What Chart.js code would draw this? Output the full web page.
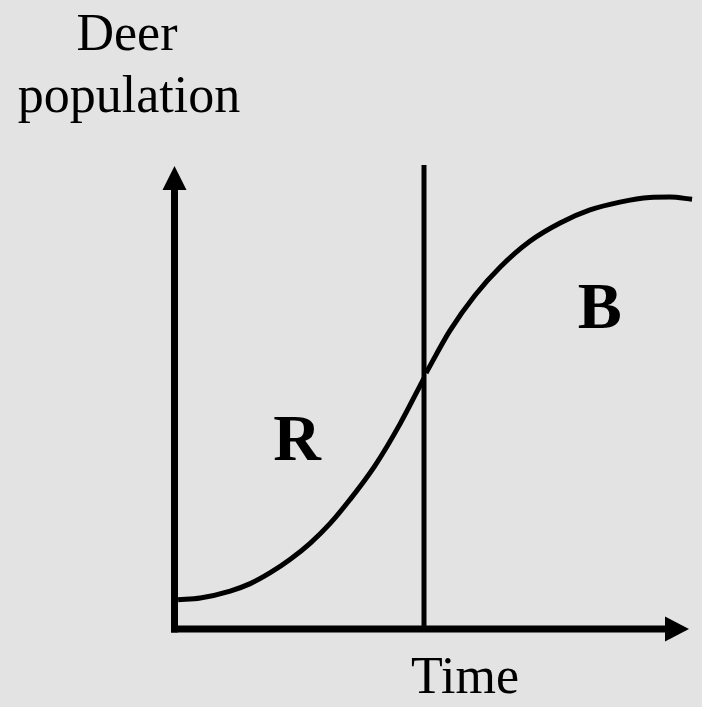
<!DOCTYPE html>
<html>
<head>
<meta charset="utf-8">
<title>Deer population over time</title>
<script src="https://cdn.jsdelivr.net/npm/chart.js@4/dist/chart.umd.min.js"></script>
<style>
  html, body { margin: 0; padding: 0; background: #e3e3e3; }
  #wrap { width: 702px; height: 707px; }
</style>
</head>
<body>
<div id="wrap"><canvas id="c" width="702" height="707"></canvas></div>
<script>
// Growth curve, lower half (reinforcing phase R): time vs deer population
const growthTime = [0.07, 0.50, 1.08, 1.47, 1.85, 2.24, 2.63, 3.02, 3.40, 3.89, 4.37, 4.84];
const growthPop  = [0.63, 0.67, 0.82, 0.98, 1.21, 1.50, 1.85, 2.28, 2.79, 3.53, 4.42, 5.42];
// Growth curve, upper half (balancing phase B)
const limitTime = [4.88, 5.34, 5.83, 6.32, 6.90, 7.48, 8.06, 8.64, 9.22, 9.61, 10.04];
const limitPop  = [5.53, 6.44, 7.21, 7.82, 8.38, 8.77, 9.05, 9.22, 9.32, 9.33, 9.28];
// Boundary between the two phases
const switchTime = [4.84, 4.84];
const switchPop  = [0, 10.02];
// Axis titles and phase labels
const axisLabels = { y: ["Deer", "population"], x: "Time" };
const phaseNames = ["R", "B"];
const phaseTime  = [2.38, 8.25];
const phasePop   = [3.65, 6.5];

const toPoints = (xs, ys) => xs.map((x, i) => ({ x: x, y: ys[i] }));

const INK = '#000000';
const PAPER = '#e3e3e3';

const arrowAxes = {
  id: 'arrowAxes',
  beforeDraw(chart) {
    const ctx = chart.ctx;
    ctx.save();
    ctx.fillStyle = PAPER;
    ctx.fillRect(0, 0, chart.width, chart.height);
    ctx.restore();
  },
  afterDatasetsDraw(chart) {
    const { ctx, scales: { x, y } } = chart;
    const x0 = x.getPixelForValue(0), y0 = y.getPixelForValue(0);
    const yTop = y.getPixelForValue(10), xEnd = x.getPixelForValue(10);
    ctx.save();
    ctx.strokeStyle = INK;
    ctx.fillStyle = INK;
    ctx.lineWidth = 7;
    ctx.lineCap = 'butt';
    // vertical axis with arrowhead
    ctx.beginPath();
    ctx.moveTo(x0, y0 + 3.5);
    ctx.lineTo(x0, yTop + 20);
    ctx.stroke();
    ctx.beginPath();
    ctx.moveTo(x0, yTop);
    ctx.lineTo(x0 - 12, yTop + 24);
    ctx.lineTo(x0 + 12, yTop + 24);
    ctx.closePath();
    ctx.fill();
    // horizontal axis with arrowhead
    ctx.beginPath();
    ctx.moveTo(x0 - 3.5, y0);
    ctx.lineTo(xEnd - 22, y0);
    ctx.stroke();
    ctx.beginPath();
    ctx.moveTo(xEnd - 1, y0);
    ctx.lineTo(xEnd - 25, y0 - 12.5);
    ctx.lineTo(xEnd - 25, y0 + 12.5);
    ctx.closePath();
    ctx.fill();

    // axis titles
    ctx.textAlign = 'center';
    ctx.textBaseline = 'alphabetic';
    ctx.font = '52px "Liberation Serif", "Times New Roman", serif';
    ctx.fillText(axisLabels.y[0], 127, 50);
    ctx.fillText(axisLabels.y[1], 129, 112);
    ctx.fillText(axisLabels.x, 465, 693);

    // phase labels
    ctx.font = 'bold 66px "Liberation Serif", "Times New Roman", serif';
    phaseNames.forEach((name, i) => {
      ctx.fillText(name, x.getPixelForValue(phaseTime[i]), y.getPixelForValue(phasePop[i]));
    });
    ctx.restore();
  }
};

new Chart(document.getElementById('c'), {
  type: 'scatter',
  data: {
    datasets: [
      {
        data: toPoints(growthTime, growthPop),
        showLine: true, borderColor: INK, borderWidth: 5,
        pointRadius: 0, cubicInterpolationMode: 'monotone', clip: false
      },
      {
        data: toPoints(limitTime, limitPop),
        showLine: true, borderColor: INK, borderWidth: 5,
        pointRadius: 0, cubicInterpolationMode: 'monotone', clip: false
      },
      {
        data: toPoints(switchTime, switchPop),
        showLine: true, borderColor: INK, borderWidth: 5,
        pointRadius: 0, clip: false
      }
    ]
  },
  options: {
    responsive: false,
    devicePixelRatio: 1,
    animation: false,
    layout: { padding: { left: 174.5, right: 12, top: 166, bottom: 78 } },
    plugins: { legend: { display: false }, tooltip: { enabled: false } },
    scales: {
      x: { type: 'linear', min: 0, max: 10, display: false },
      y: { type: 'linear', min: 0, max: 10, display: false }
    },
    events: []
  },
  plugins: [arrowAxes]
});
</script>
</body>
</html>
